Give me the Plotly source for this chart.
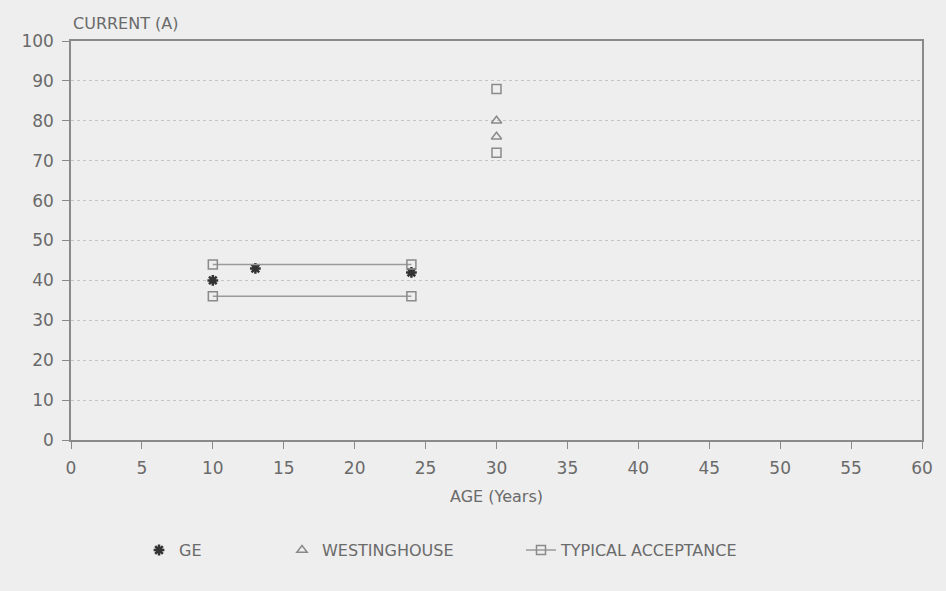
import plotly.graph_objects as go

# GE measured currents
ge_age = [10, 13, 24]
ge_current = [40, 43, 42]

# Westinghouse measured currents
w_age = [30, 30]
w_current = [80, 76]

# Typical acceptance band limits
acc_age_lo = [10, 24]
acc_upper_lo = [44, 44]
acc_lower_lo = [36, 36]
acc_age_hi = [30]
acc_upper_hi = [88]
acc_lower_hi = [72]

x_ticks = [0, 5, 10, 15, 20, 25, 30, 35, 40, 45, 50, 55, 60]
x_tick_text = ["0", "5", "10", "15", "20", "25", "30", "35", "40", "45", "50", "55", "60"]
y_ticks = [0, 10, 20, 30, 40, 50, 60, 70, 80, 90, 100]

INK = "#6a6a6a"
BG = "#eeeeee"
FONT = "DejaVu Sans"

acc_x = acc_age_lo + [None] + acc_age_lo + [None] + acc_age_hi + [None] + acc_age_hi
acc_y = acc_upper_lo + [None] + acc_lower_lo + [None] + acc_upper_hi + [None] + acc_lower_hi

fig = go.Figure()
fig.add_trace(go.Scatter(
    x=ge_age, y=ge_current, mode="markers", name="GE", legend="legend",
    marker=dict(symbol="asterisk", size=9, color="#333333",
                line=dict(color="#333333", width=2.5)),
))
fig.add_trace(go.Scatter(
    x=w_age, y=w_current, mode="markers", name="WESTINGHOUSE", legend="legend2",
    marker=dict(symbol="triangle-up-open", size=9, color="#8a8a8a",
                line=dict(color="#8a8a8a", width=1.5)),
))
fig.add_trace(go.Scatter(
    x=acc_x, y=acc_y, mode="lines+markers", name="TYPICAL ACCEPTANCE", legend="legend3",
    line=dict(color="#9a9a9a", width=1.5),
    marker=dict(symbol="square-open", size=9, color="#8a8a8a",
                line=dict(color="#8a8a8a", width=1.5)),
    connectgaps=False,
))

# plot area spans x pixels 71..922; helper to place legend boxes by pixel
def px_to_paper(px):
    return (px - 71) / 851.0

leg_common = dict(orientation="h", y=-0.276, yanchor="middle", xanchor="left",
                  font=dict(size=16, color=INK, family=FONT),
                  bgcolor="rgba(0,0,0,0)", borderwidth=0)

fig.update_layout(
    width=946, height=591,
    margin=dict(l=71, r=24, t=41, b=151),
    paper_bgcolor=BG, plot_bgcolor=BG,
    font=dict(family=FONT, color=INK, size=16),
    showlegend=True,
    legend=dict(x=px_to_paper(139), **leg_common),
    legend2=dict(x=px_to_paper(282), **leg_common),
    legend3=dict(x=px_to_paper(521), **leg_common),
    annotations=[dict(text="CURRENT (A)", xref="paper", yref="paper", x=0.0, y=1.0,
                      xanchor="left", yanchor="bottom", yshift=6, showarrow=False,
                      font=dict(size=16, color=INK, family=FONT))],
)

fig.update_xaxes(
    range=[0, 60], tickvals=x_ticks, ticktext=x_tick_text,
    showgrid=False, zeroline=False,
    showline=True, linecolor="#8a8a8a", linewidth=1.5, mirror=True,
    ticks="outside", ticklen=7, tickcolor="#8a8a8a", tickwidth=1.2,
    ticklabelstandoff=5,
    tickfont=dict(size=17, color=INK),
    title=dict(text="AGE (Years)", font=dict(size=16, color=INK), standoff=14),
)
fig.update_yaxes(
    range=[0, 100], tickvals=y_ticks,
    showgrid=True, gridcolor="#c4c4c4", griddash="dot", gridwidth=1,
    zeroline=False,
    showline=True, linecolor="#8a8a8a", linewidth=1.5, mirror=True,
    ticks="outside", ticklen=7, tickcolor="#8a8a8a", tickwidth=1.2,
    ticklabelstandoff=5,
    tickfont=dict(size=17, color=INK),
)

fig.write_html("out.html")
